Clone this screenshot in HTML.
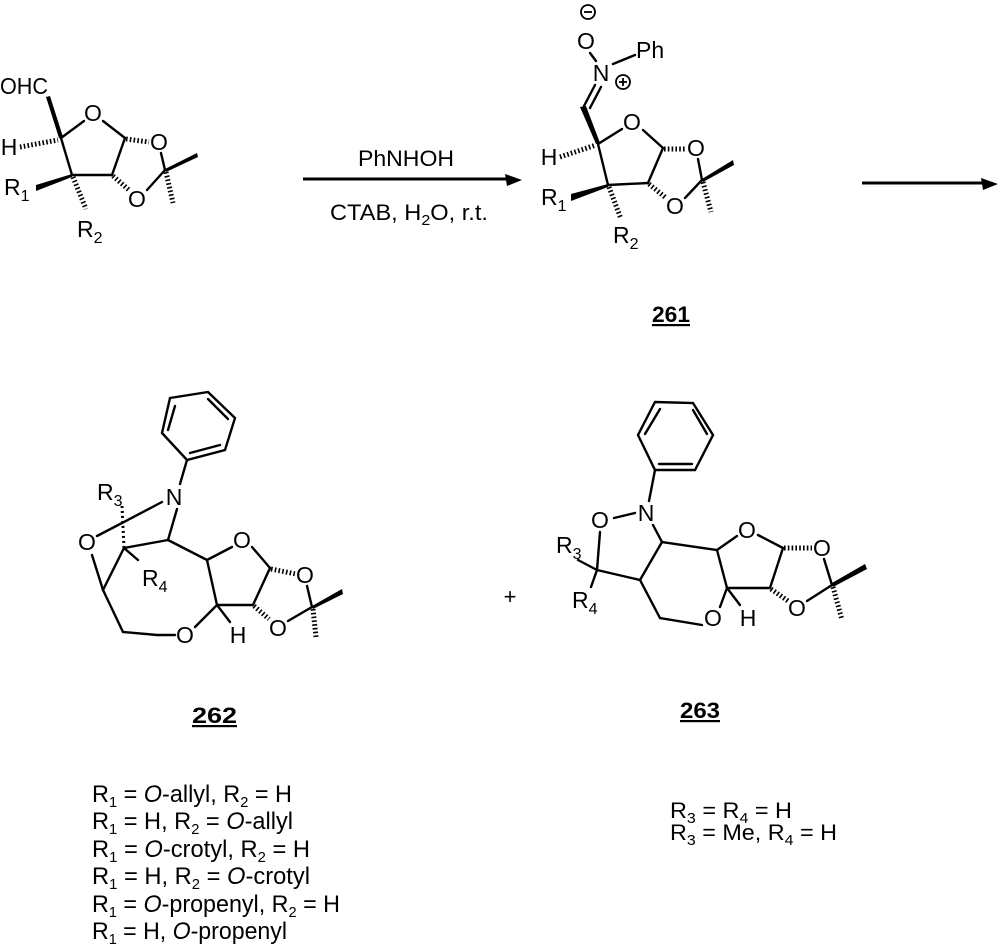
<!DOCTYPE html>
<html><head><meta charset="utf-8"><style>
html,body{margin:0;padding:0;background:#fff;}
svg{display:block;}
text{font-family:"Liberation Sans",Arial,sans-serif;fill:#000;}
.a{font-size:23px;text-anchor:middle;dominant-baseline:central;}
.b{stroke:#000;stroke-width:2.4;fill:none;stroke-linecap:round;}
.h{stroke:#000;stroke-width:6;fill:none;stroke-dasharray:1.6 2.2;}
.lbl{font-size:22px;font-weight:bold;text-decoration:underline;}
.lst{font-size:24px;}
.r{font-size:23px;}
.s{font-size:16px;}
</style></head><body>
<svg width="1000" height="945" viewBox="0 0 1000 945" xmlns="http://www.w3.org/2000/svg">
<rect width="1000" height="945" fill="#fff"/>

<!-- Starting material -->
<text x="0" y="94" class="r" textLength="48" lengthAdjust="spacingAndGlyphs">OHC</text>
<polygon points="46,97 50,96 63,137 59,138" fill="#000"/>
<text class="a" x="9" y="147">H</text>
<line class="h" x1="20" y1="147" x2="58" y2="140" style="stroke-width:5"/>
<text class="a" x="93" y="113">O</text>
<line class="b" x1="61" y1="138" x2="84" y2="121"/>
<line class="b" x1="103" y1="121" x2="125" y2="138"/>
<line class="h" x1="126" y1="139" x2="149" y2="142" style="stroke-width:5"/>
<text class="a" x="159" y="142">O</text>
<line class="b" x1="161" y1="153" x2="165" y2="170"/>
<polygon points="165,169 197,153 198,157 166,172" fill="#000"/>
<line class="h" x1="166" y1="172" x2="173" y2="203" style="stroke-width:5"/>
<line class="b" x1="165" y1="170" x2="147" y2="190"/>
<text class="a" x="137" y="199">O</text>
<line class="h" x1="113" y1="176" x2="129" y2="190" style="stroke-width:5"/>
<line class="b" x1="125" y1="138" x2="112" y2="175"/>
<line class="b" x1="112" y1="175" x2="72" y2="175"/>
<line class="b" x1="61" y1="138" x2="72" y2="175"/>
<text x="4" y="195" class="r">R<tspan dy="6" class="s">1</tspan></text>
<polygon points="36,191 36,185 72,174 72,177" fill="#000"/>
<line class="h" x1="73" y1="177" x2="86" y2="209" style="stroke-width:5"/>
<text x="77" y="237" class="r">R<tspan dy="6" class="s">2</tspan></text>

<!-- Arrow 1 -->
<text x="406" y="166" style="font-size:22px;text-anchor:middle" textLength="96" lengthAdjust="spacingAndGlyphs">PhNHOH</text>
<line x1="303" y1="179" x2="512" y2="179" stroke="#000" stroke-width="3"/>
<polygon points="522,180 505,174 507,186" fill="#000"/>
<text x="330" y="220" style="font-size:22px" textLength="158" lengthAdjust="spacingAndGlyphs">CTAB, H<tspan dy="5" style="font-size:15px">2</tspan><tspan dy="-5">O, r.t.</tspan></text>

<!-- Arrow 2 -->
<line x1="862" y1="183" x2="988" y2="183" stroke="#000" stroke-width="3"/>
<polygon points="998,184 981,178 983,190" fill="#000"/>

<!-- 261 -->
<circle cx="588" cy="12" r="7" class="b" style="stroke-width:1.8"/>
<line x1="584" y1="12" x2="592" y2="12" stroke="#000" stroke-width="1.8"/>
<text class="a" x="586" y="41">O</text>
<line class="b" x1="590" y1="53" x2="596" y2="61"/>
<text class="a" x="601" y="73">N</text>
<line class="b" x1="613" y1="64" x2="635" y2="55"/>
<text x="636" y="58" class="r">Ph</text>
<circle cx="623" cy="82" r="7" class="b" style="stroke-width:1.8"/>
<line x1="619" y1="82" x2="627" y2="82" stroke="#000" stroke-width="1.8"/>
<line x1="623" y1="78" x2="623" y2="86" stroke="#000" stroke-width="1.8"/>
<line class="b" x1="595" y1="85" x2="584" y2="106"/>
<line class="b" x1="601" y1="87" x2="590" y2="108"/>
<polygon points="580,107 586,106 600,143 596,144" fill="#000"/>
<text class="a" x="549" y="157">H</text>
<line class="h" x1="560" y1="157" x2="596" y2="145" style="stroke-width:5"/>
<text class="a" x="632" y="122">O</text>
<line class="b" x1="598" y1="144" x2="622" y2="129"/>
<line class="b" x1="643" y1="130" x2="663" y2="148"/>
<line class="h" x1="664" y1="149" x2="686" y2="149" style="stroke-width:5"/>
<text class="a" x="696" y="148">O</text>
<line class="b" x1="698" y1="159" x2="702" y2="180"/>
<polygon points="702,179 733,160 734,165 703,182" fill="#000"/>
<line class="h" x1="703" y1="182" x2="711" y2="212" style="stroke-width:5"/>
<line class="b" x1="702" y1="180" x2="685" y2="198"/>
<text class="a" x="675" y="206">O</text>
<line class="h" x1="649" y1="184" x2="666" y2="198" style="stroke-width:5"/>
<line class="b" x1="663" y1="148" x2="648" y2="183"/>
<line class="b" x1="648" y1="183" x2="608" y2="185"/>
<line class="b" x1="598" y1="144" x2="608" y2="185"/>
<text x="541" y="205" class="r">R<tspan dy="6" class="s">1</tspan></text>
<polygon points="571,201 571,194 608,184 608,187" fill="#000"/>
<line class="h" x1="609" y1="187" x2="621" y2="219" style="stroke-width:5"/>
<text x="613" y="243" class="r">R<tspan dy="6" class="s">2</tspan></text>
<text class="lbl" x="652" y="322" textLength="38" lengthAdjust="spacingAndGlyphs">261</text>

<!-- 262 -->
<polygon class="b" points="170,398 208,392 235,418 225,450 187,460 162,433"/>
<line class="b" x1="175" y1="406" x2="168" y2="430"/>
<line class="b" x1="208" y1="399" x2="228" y2="419"/>
<line class="b" x1="190" y1="453" x2="220" y2="445"/>
<line class="b" x1="187" y1="460" x2="180" y2="484"/>
<text class="a" x="174" y="497">N</text>
<text x="97" y="500" class="r">R<tspan dy="6" class="s">3</tspan></text>
<line class="b" x1="122" y1="523" x2="162" y2="502"/>
<line class="b" x1="97" y1="536" x2="122" y2="523"/>
<line x1="122" y1="506" x2="124" y2="548" stroke="#000" stroke-width="3" stroke-dasharray="2 3"/>
<text class="a" x="87" y="542">O</text>
<line class="b" x1="124" y1="548" x2="168" y2="540"/>
<line class="b" x1="124" y1="548" x2="138" y2="560"/>
<text x="142" y="586" class="r">R<tspan dy="6" class="s">4</tspan></text>
<line class="b" x1="177" y1="509" x2="168" y2="540"/>
<line class="b" x1="168" y1="540" x2="207" y2="560"/>
<line class="b" x1="124" y1="548" x2="103" y2="590"/>
<line class="b" x1="92" y1="555" x2="103" y2="590"/>
<polyline class="b" points="103,590 123,632 157,635 175,635"/>
<text class="a" x="185" y="635">O</text>
<line class="b" x1="195" y1="627" x2="217" y2="605"/>
<line class="b" x1="217" y1="605" x2="230" y2="622"/>
<text class="a" x="238" y="635">H</text>
<line class="b" x1="207" y1="560" x2="217" y2="605"/>
<line class="b" x1="207" y1="560" x2="232" y2="547"/>
<text class="a" x="242" y="540">O</text>
<line class="b" x1="252" y1="547" x2="270" y2="568"/>
<line class="b" x1="270" y1="568" x2="253" y2="605"/>
<line class="b" x1="253" y1="605" x2="217" y2="605"/>
<line class="h" x1="271" y1="569" x2="296" y2="574" style="stroke-width:5"/>
<text class="a" x="305" y="575">O</text>
<line class="b" x1="307" y1="586" x2="312" y2="607"/>
<polygon points="312,606 342,589 343,594 313,609" fill="#000"/>
<line class="h" x1="313" y1="609" x2="316" y2="637" style="stroke-width:5"/>
<line class="b" x1="312" y1="607" x2="288" y2="621"/>
<text class="a" x="278" y="628">O</text>
<line class="h" x1="254" y1="606" x2="269" y2="619" style="stroke-width:5"/>
<text class="lbl" x="192" y="723" textLength="45" lengthAdjust="spacingAndGlyphs">262</text>

<!-- plus -->
<text x="510" y="604" style="font-size:22px;text-anchor:middle">+</text>

<!-- 263 -->
<polygon class="b" points="655,402 693,403 713,435 695,470 655,470 638,435"/>
<line class="b" x1="660" y1="409" x2="645" y2="434"/>
<line class="b" x1="693" y1="410" x2="707" y2="434"/>
<line class="b" x1="659" y1="464" x2="692" y2="464"/>
<line class="b" x1="655" y1="470" x2="649" y2="501"/>
<text class="a" x="646" y="513">N</text>
<line class="b" x1="614" y1="518" x2="635" y2="513"/>
<text class="a" x="600" y="520">O</text>
<line class="b" x1="600" y1="532" x2="597" y2="570"/>
<text x="556" y="553" class="r">R<tspan dy="6" class="s">3</tspan></text>
<line class="b" x1="578" y1="560" x2="597" y2="570"/>
<line class="b" x1="597" y1="570" x2="591" y2="587"/>
<text x="572" y="608" class="r">R<tspan dy="6" class="s">4</tspan></text>
<line class="b" x1="597" y1="570" x2="640" y2="580"/>
<line class="b" x1="653" y1="525" x2="662" y2="542"/>
<line class="b" x1="662" y1="542" x2="640" y2="580"/>
<polyline class="b" points="640,580 660,618 702,625"/>
<text class="a" x="713" y="618">O</text>
<line class="b" x1="662" y1="542" x2="717" y2="550"/>
<line class="b" x1="717" y1="550" x2="737" y2="536"/>
<text class="a" x="747" y="530">O</text>
<line class="b" x1="758" y1="535" x2="783" y2="548"/>
<line class="b" x1="783" y1="548" x2="770" y2="588"/>
<line class="b" x1="770" y1="588" x2="727" y2="588"/>
<line class="b" x1="717" y1="550" x2="727" y2="588"/>
<line class="b" x1="720" y1="607" x2="727" y2="588"/>
<line class="b" x1="727" y1="588" x2="740" y2="605"/>
<text class="a" x="748" y="618">H</text>
<line class="h" x1="784" y1="548" x2="812" y2="548" style="stroke-width:5"/>
<text class="a" x="822" y="548">O</text>
<line class="b" x1="824" y1="559" x2="832" y2="585"/>
<polygon points="832,583 865,564 867,569 833,587" fill="#000"/>
<line class="h" x1="833" y1="587" x2="842" y2="620" style="stroke-width:5"/>
<line class="b" x1="832" y1="585" x2="807" y2="601"/>
<text class="a" x="797" y="608">O</text>
<line class="h" x1="771" y1="589" x2="788" y2="601" style="stroke-width:5"/>
<text class="lbl" x="680" y="718" textLength="40" lengthAdjust="spacingAndGlyphs">263</text>

<!-- Left list -->
<text class="lst" x="92" y="802" textLength="200" lengthAdjust="spacingAndGlyphs">R<tspan dy="5" style="font-size:15px">1</tspan><tspan dy="-5"> = <tspan font-style="italic">O</tspan>-allyl, R</tspan><tspan dy="5" style="font-size:15px">2</tspan><tspan dy="-5"> = H</tspan></text>
<text class="lst" x="92" y="829" textLength="201" lengthAdjust="spacingAndGlyphs">R<tspan dy="5" style="font-size:15px">1</tspan><tspan dy="-5"> = H, R</tspan><tspan dy="5" style="font-size:15px">2</tspan><tspan dy="-5"> = <tspan font-style="italic">O</tspan>-allyl</tspan></text>
<text class="lst" x="92" y="857" textLength="218" lengthAdjust="spacingAndGlyphs">R<tspan dy="5" style="font-size:15px">1</tspan><tspan dy="-5"> = <tspan font-style="italic">O</tspan>-crotyl, R</tspan><tspan dy="5" style="font-size:15px">2</tspan><tspan dy="-5"> = H</tspan></text>
<text class="lst" x="92" y="884" textLength="218" lengthAdjust="spacingAndGlyphs">R<tspan dy="5" style="font-size:15px">1</tspan><tspan dy="-5"> = H, R</tspan><tspan dy="5" style="font-size:15px">2</tspan><tspan dy="-5"> = <tspan font-style="italic">O</tspan>-crotyl</tspan></text>
<text class="lst" x="92" y="912" textLength="248" lengthAdjust="spacingAndGlyphs">R<tspan dy="5" style="font-size:15px">1</tspan><tspan dy="-5"> = <tspan font-style="italic">O</tspan>-propenyl, R</tspan><tspan dy="5" style="font-size:15px">2</tspan><tspan dy="-5"> = H</tspan></text>
<text class="lst" x="92" y="939" textLength="195" lengthAdjust="spacingAndGlyphs">R<tspan dy="5" style="font-size:15px">1</tspan><tspan dy="-5"> = H, <tspan font-style="italic">O</tspan>-propenyl</tspan></text>

<!-- Right list -->
<text x="670" y="818" style="font-size:22px" textLength="122" lengthAdjust="spacingAndGlyphs">R<tspan dy="5" style="font-size:15px">3</tspan><tspan dy="-5"> = R</tspan><tspan dy="5" style="font-size:15px">4</tspan><tspan dy="-5"> = H</tspan></text>
<text x="670" y="840" style="font-size:22px" textLength="167" lengthAdjust="spacingAndGlyphs">R<tspan dy="5" style="font-size:15px">3</tspan><tspan dy="-5"> = Me, R</tspan><tspan dy="5" style="font-size:15px">4</tspan><tspan dy="-5"> = H</tspan></text>
</svg>
</body></html>
